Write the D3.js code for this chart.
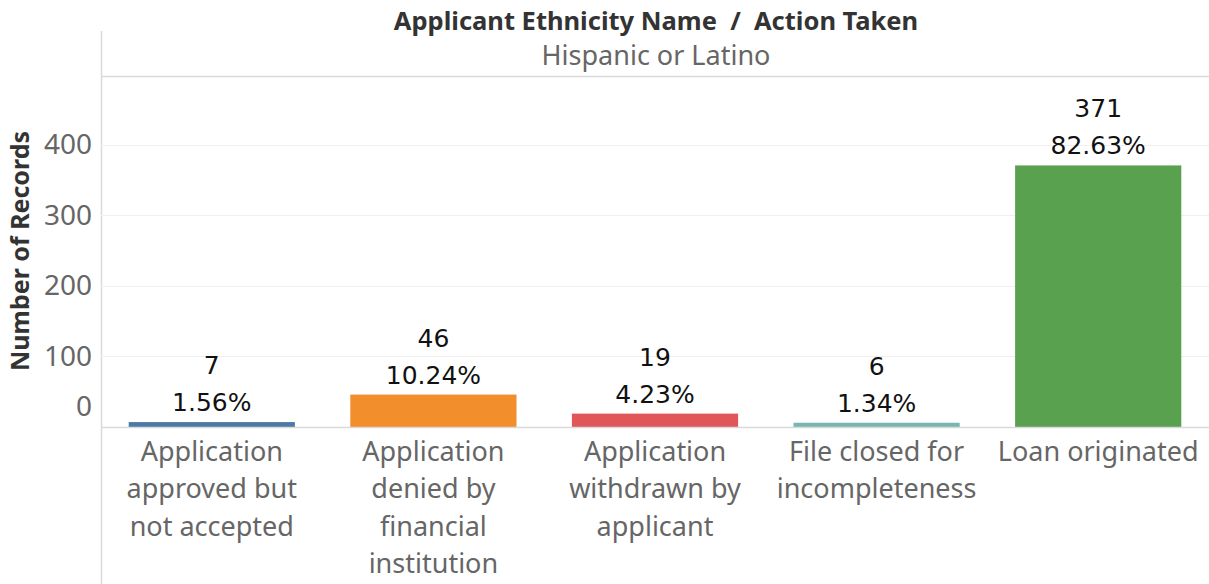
<!DOCTYPE html>
<html>
<head>
<meta charset="utf-8">
<script src="https://cdn.jsdelivr.net/npm/d3@7"></script>
<style>
  body { margin: 0; background: #fff; }
  svg { display: block; }
</style>
</head>
<body>
<div id="chart"></div>
<script>
// Données du graphique
const categories = [
  ["Application", "approved but", "not accepted"],
  ["Application", "denied by", "financial", "institution"],
  ["Application", "withdrawn by", "applicant"],
  ["File closed for", "incompleteness"],
  ["Loan originated"]
];
const counts = [7, 46, 19, 6, 371];
const percents = ["1.56%", "10.24%", "4.23%", "1.34%", "82.63%"];
const colors = ["#4e79a7", "#f28e2b", "#e15759", "#76b7b2", "#59a14f"];
const yTicks = [0, 100, 200, 300, 400];

const width = 1209, height = 584;
const margin = { top: 76, left: 101, right: 0, bottom: 157 };
const font = "'Noto Sans', sans-serif";

const svg = d3.select('#chart').append('svg')
  .attr('width', width)
  .attr('height', height);

const keys = categories.map((c, i) => i);

// Échelles
const x = d3.scaleBand()
  .domain(keys)
  .range([margin.left, width - margin.right])
  .paddingInner(0.25)
  .paddingOuter(0.125);
const y = d3.scaleLinear()
  .domain([0, 495])
  .range([427, 78]);

// Titre
svg.append('text')
  .attr('x', 656).attr('y', 30)
  .attr('text-anchor', 'middle')
  .style('white-space', 'pre')
  .attr('font-family', font).attr('font-weight', 'bold')
  .attr('font-size', 25.5).attr('fill', '#333')
  .text('Applicant Ethnicity Name  /  Action Taken');
svg.append('text')
  .attr('x', 656).attr('y', 65)
  .attr('text-anchor', 'middle')
  .attr('font-family', font)
  .attr('font-size', 27).attr('fill', '#666')
  .text('Hispanic or Latino');

// Lignes du cadre
svg.append('line')
  .attr('x1', margin.left).attr('x2', width)
  .attr('y1', 76.5).attr('y2', 76.5)
  .attr('stroke', '#d9d9d9').attr('stroke-width', 1.5);
svg.append('line')
  .attr('x1', margin.left + 0.5).attr('x2', margin.left + 0.5)
  .attr('y1', 31).attr('y2', height)
  .attr('stroke', '#d9d9d9').attr('stroke-width', 1.5);

// Grille
svg.append('g')
  .selectAll('line')
  .data(yTicks.filter(d => d > 0))
  .enter().append('line')
  .attr('x1', margin.left).attr('x2', width)
  .attr('y1', d => Math.round(y(d)) + 0.5)
  .attr('y2', d => Math.round(y(d)) + 0.5)
  .attr('stroke', '#efefef');

// Axe Y
const yAxis = svg.append('g')
  .attr('transform', `translate(${margin.left},0)`)
  .call(d3.axisLeft(y).tickValues(yTicks).tickSize(0).tickPadding(9));
yAxis.select('.domain').remove();
yAxis.selectAll('text')
  .attr('font-family', font).attr('font-size', 28).attr('fill', '#666')
  .attr('dy', d => d === 0 ? '-0.4em' : '0.32em');

svg.append('text')
  .attr('transform', `translate(29,${251}) rotate(-90)`)
  .attr('text-anchor', 'middle')
  .attr('font-family', font).attr('font-weight', 'bold')
  .attr('font-size', 25).attr('fill', '#333')
  .text('Number of Records');

// Barres
svg.append('g')
  .selectAll('rect')
  .data(counts)
  .enter().append('rect')
  .attr('x', (d, i) => x(i))
  .attr('y', d => y(d))
  .attr('width', x.bandwidth())
  .attr('height', d => y(0) - y(d))
  .attr('fill', (d, i) => colors[i]);

// Ligne zéro
svg.append('line')
  .attr('x1', margin.left).attr('x2', width)
  .attr('y1', y(0) + 0.5).attr('y2', y(0) + 0.5)
  .attr('stroke', '#d9d9d9').attr('stroke-width', 1.5);

// Étiquettes de valeur
const labels = svg.append('g')
  .selectAll('text')
  .data(counts)
  .enter().append('text')
  .attr('text-anchor', 'middle')
  .attr('font-family', "'DejaVu Sans', sans-serif")
  .attr('font-size', 25).attr('fill', '#111');
labels.append('tspan')
  .attr('x', (d, i) => x(i) + x.bandwidth() / 2)
  .attr('y', d => y(d) - 48)
  .text(d => d);
labels.append('tspan')
  .attr('x', (d, i) => x(i) + x.bandwidth() / 2)
  .attr('y', d => y(d) - 11)
  .text((d, i) => percents[i]);

// Étiquettes de catégorie
const cat = svg.append('g')
  .selectAll('text')
  .data(categories)
  .enter().append('text')
  .attr('text-anchor', 'middle')
  .attr('font-family', font)
  .attr('font-size', 27).attr('fill', '#666');
cat.selectAll('tspan')
  .data((d, i) => d.map(line => ({ line, i })))
  .enter().append('tspan')
  .attr('x', d => x(d.i) + x.bandwidth() / 2)
  .attr('y', (d, j) => 461 + j * 37.3)
  .text(d => d.line);
</script>
</body>
</html>
